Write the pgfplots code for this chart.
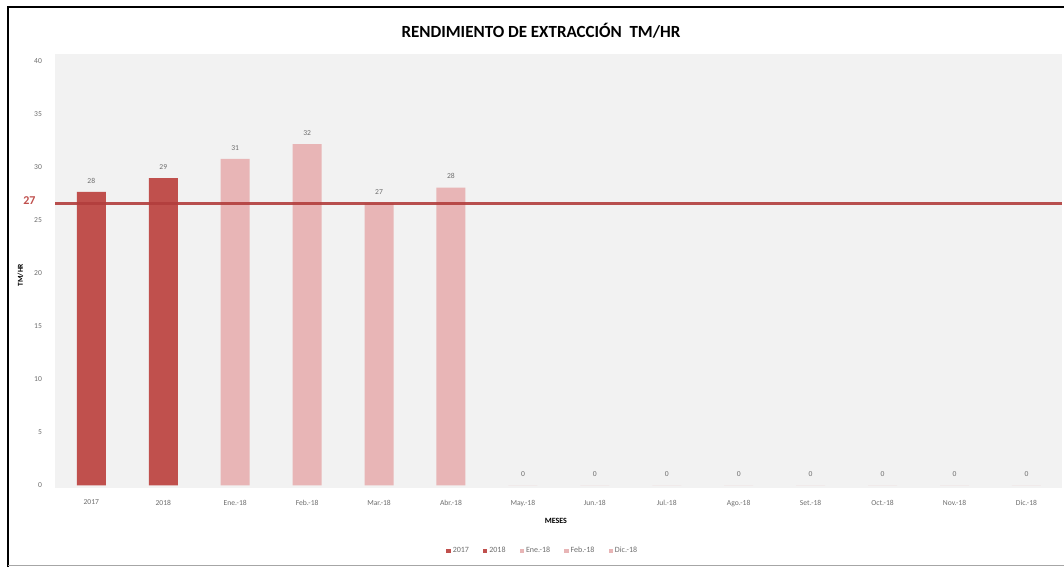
\documentclass[border=0pt]{standalone}
\usepackage{pgfplots}
\pgfplotsset{compat=1.18}
\usepackage{fontspec}
\setmainfont{Carlito}

\definecolor{barDark}{HTML}{C0504D}
\definecolor{barLight}{HTML}{E8B5B6}
\definecolor{refLine}{HTML}{B23E3D}
\definecolor{plotBg}{HTML}{F2F2F2}
\definecolor{tickGray}{HTML}{6E6E6E}

\begin{document}
\begin{tikzpicture}[x=1pt,y=1pt]
\useasboundingbox (0,0) rectangle (1064,567);
\fill[white] (0,0) rectangle (1064,567);

\begin{axis}[
  at={(77,75)}, anchor=south west,
  scale only axis, width=1007pt, height=433.5pt,
  xmin=-0.5, xmax=13.5, ymin=-0.2, ymax=40.7,
  clip=false,
  axis background/.style={fill=plotBg},
  axis line style={draw=none},
  major tick length=0pt,
  xtick={0,...,13},
  xticklabels={2017,2018,Ene.-18,Feb.-18,Mar.-18,Abr.-18,May.-18,Jun.-18,Jul.-18,Ago.-18,Set.-18,Oct.-18,Nov.-18,Dic.-18},
  ytick={0,5,...,40},
  /pgf/number format/assume math mode=true,
  ticklabel style={font=\fontsize{7.6}{8}\selectfont, text=tickGray},
  xticklabel style={yshift=-9pt},
  yticklabel style={xshift=-10pt},
  ylabel={\textbf{TM/HR}},
  ylabel style={font=\fontsize{7.5}{8}\selectfont, at={(rel axis cs:-0.0347,0.49)}, anchor=center},
  xlabel={\textbf{MESES}},
  xlabel style={font=\fontsize{8}{8}\selectfont, at={(rel axis cs:0.497,0)}, yshift=-27pt},
  legend style={at={(0.484,-0.146)}, anchor=center, draw=none, fill=none,
    legend columns=-1, font=\fontsize{8}{9}\selectfont, text=tickGray,
    /tikz/every even column/.append style={column sep=12pt}},
  legend image code/.code={\fill[#1, draw=none] (0pt,-2.2pt) rectangle (4.4pt,2.2pt);},
  nodes near coords={\pgfmathprintnumber[fixed,precision=0]{\pgfplotspointmeta}},
  every node near coord/.append style={font=\fontsize{7.6}{8}\selectfont, text=tickGray, yshift=5pt},
]
% yearly averages
\addplot[ybar, bar shift=0pt, bar width=29pt, fill=barDark, draw=none, forget plot]
  coordinates {(0,27.7) (1,29.0)};
% monthly values for 2018
\addplot[ybar, bar shift=0pt, bar width=29pt, fill=barLight, draw=none, forget plot]
  coordinates {(2,30.8) (3,32.2) (4,26.6) (5,28.1) (6,0) (7,0) (8,0) (9,0) (10,0) (11,0) (12,0) (13,0)};
% target line
\addplot[refLine, line width=3pt, opacity=0.9, nodes near coords={}, forget plot]
  coordinates {(-0.5,26.6) (13.5,26.6)};
\node[anchor=center, text=barDark, font=\fontsize{12}{12}\selectfont\bfseries, inner sep=0pt]
  at (axis cs:-0.5,26.6) [xshift=-26pt, yshift=3pt] {27};

\addlegendimage{fill=barDark}
\addlegendentry{2017}
\addlegendimage{fill=barDark}
\addlegendentry{2018}
\addlegendimage{fill=barLight}
\addlegendentry{Ene.-18}
\addlegendimage{fill=barLight}
\addlegendentry{Feb.-18}
\addlegendimage{fill=barLight}
\addlegendentry{Dic.-18}
\end{axis}

\node[font=\fontsize{17}{19}\selectfont\bfseries] at (541,536) {RENDIMIENTO DE EXTRACCIÓN\ \ TM/HR};
\draw[line width=2pt, black] (8,0) -- (8,560) -- (1064,560);
\draw[line width=0.6pt, black!35] (8,2) -- (1064,2);
\end{tikzpicture}
\end{document}
